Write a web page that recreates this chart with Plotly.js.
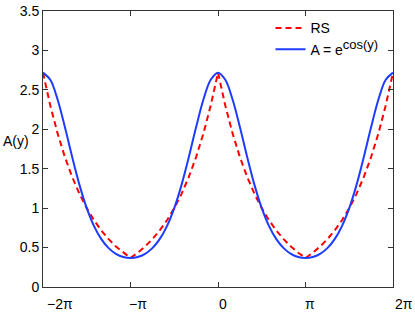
<!DOCTYPE html>
<html><head><meta charset="utf-8">
<script src="https://cdn.plot.ly/plotly-3.0.1.min.js"></script>
<style>body{margin:0;padding:0;background:#fff}#chart{width:415px;height:315px}</style>
</head><body><div id="chart"></div>
<script>
// x positions in twelfths of pi (y from -2π to 2π)
var xTwelfths = [-24,-23,-22,-21,-20,-19,-18,-17,-16,-15,-14,-13,-12,-11,-10,-9,-8,-7,-6,-5,-4,-3,-2,-1,0,1,2,3,4,5,6,7,8,9,10,11,12,13,14,15,16,17,18,19,20,21,22,23,24];
var rsValues = [2.7183,2.3010,1.9477,1.6487,1.3956,1.1814,1.0,0.8465,0.7165,0.6065,0.5134,0.4346,0.3679,0.4346,0.5134,0.6065,0.7165,0.8465,1.0,1.1814,1.3956,1.6487,1.9477,2.3010,2.7183,2.3010,1.9477,1.6487,1.3956,1.1814,1.0,0.8465,0.7165,0.6065,0.5134,0.4346,0.3679,0.4346,0.5134,0.6065,0.7165,0.8465,1.0,1.1814,1.3956,1.6487,1.9477,2.3010,2.7183];
var expCosValues = [2.7183,2.6272,2.3774,2.0281,1.6487,1.2954,1.0,0.7720,0.6065,0.4931,0.4206,0.3806,0.3679,0.3806,0.4206,0.4931,0.6065,0.7720,1.0,1.2954,1.6487,2.0281,2.3774,2.6272,2.7183,2.6272,2.3774,2.0281,1.6487,1.2954,1.0,0.7720,0.6065,0.4931,0.4206,0.3806,0.3679,0.3806,0.4206,0.4931,0.6065,0.7720,1.0,1.2954,1.6487,2.0281,2.3774,2.6272,2.7183];
var xTickVals = [-2,-1,0,1,2];
var xTickText = ['\u22122\u03c0','\u2212\u03c0','0','\u03c0','2\u03c0'];
var yTickVals = [0,0.5,1,1.5,2,2.5,3,3.5];
var yTickText = ['0','0.5','1','1.5','2','2.5','3','3.5'];
var seriesNames = ['RS','A = e<sup><span style="font-size:13px">cos(y)</span></sup>'];

var xs = xTwelfths.map(function(k){return k/12;});
var font = {family:'Liberation Sans, Arial, sans-serif', size:14, color:'#000'};
var traces = [
  {x:xs, y:rsValues, name:seriesNames[0], mode:'lines', line:{color:'rgb(255,0,0)', width:2, dash:'6px,4px'}},
  {x:xs, y:expCosValues, name:seriesNames[1], mode:'lines', line:{color:'rgb(30,60,255)', width:2, shape:'spline', smoothing:1}}
];
var axisCommon = {showgrid:false, zeroline:false, showline:true, linecolor:'#333', linewidth:1, mirror:'ticks', ticks:'inside', ticklen:5, tickcolor:'#333', tickfont:font};
// x tick labels drawn as annotations so they can sit where the reference puts them
var labelAnchor = ['left','center','center','center','left'];
var labelShift = [2,7,4.5,4.5,0];
var annotations = xTickVals.map(function(v,i){
  return {text:xTickText[i], xref:'x', yref:'paper', x:v, y:0, xanchor:labelAnchor[i], yanchor:'top', xshift:labelShift[i], yshift:-7, showarrow:false, font:font};
});
annotations.push({text:'A(y)', xref:'paper', yref:'y', x:-0.035, y:1.85, xanchor:'right', yanchor:'middle', showarrow:false, font:font});
var layout = {
  width:415, height:315,
  margin:{l:43, r:22, t:11, b:28},
  paper_bgcolor:'#fff', plot_bgcolor:'#fff',
  font:font,
  xaxis:Object.assign({}, axisCommon, {range:[-2,2], tickmode:'array', tickvals:xTickVals, showticklabels:false}),
  yaxis:Object.assign({}, axisCommon, {range:[0,3.5], tickmode:'array', tickvals:yTickVals, ticktext:yTickText}),
  showlegend:true,
  legend:{x:0.65, y:0.995, xanchor:'left', yanchor:'top', bgcolor:'rgba(255,255,255,0)', borderwidth:0, font:font, tracegroupgap:0},
  annotations:annotations
};
Plotly.newPlot('chart', traces, layout, {displayModeBar:false, staticPlot:true});
</script></body></html>
